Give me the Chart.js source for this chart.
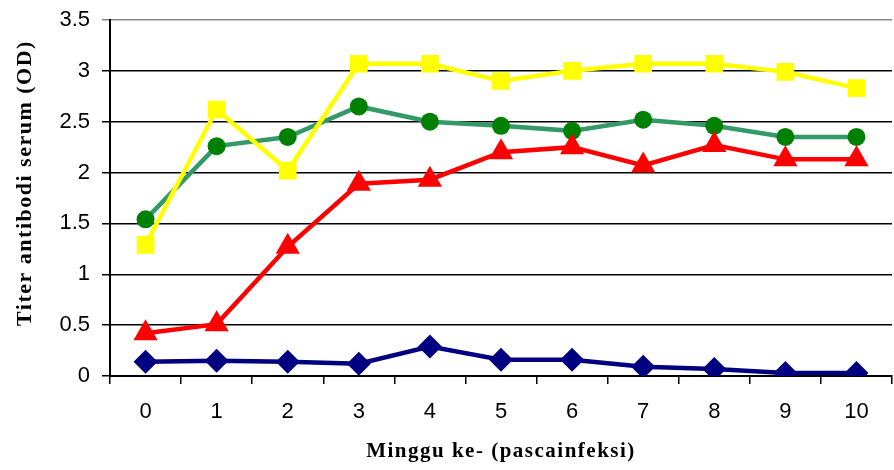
<!DOCTYPE html>
<html>
<head>
<meta charset="utf-8">
<script src="https://cdn.jsdelivr.net/npm/chart.js@4.4.1/dist/chart.umd.min.js"></script>
<style>
  html, body { margin: 0; padding: 0; background: #fff; overflow: hidden; }
  #wrap { position: relative; width: 906px; height: 470px; }
</style>
</head>
<body>
<div id="wrap"><canvas id="titerChart"></canvas></div>
<script>
// minggu pascainfeksi
const weeks = ['0', '1', '2', '3', '4', '5', '6', '7', '8', '9', '10'];
const yTicks = [0, 0.5, 1, 1.5, 2, 2.5, 3, 3.5];

// nilai OD
const seriesYellow = [1.29, 2.62, 2.02, 3.07, 3.07, 2.90, 3.00, 3.07, 3.07, 2.99, 2.83];
const seriesGreen  = [1.54, 2.26, 2.35, 2.65, 2.50, 2.46, 2.41, 2.52, 2.46, 2.35, 2.35];
const seriesRed    = [0.42, 0.51, 1.27, 1.89, 1.93, 2.20, 2.25, 2.07, 2.27, 2.13, 2.13];
const seriesNavy   = [0.14, 0.15, 0.14, 0.12, 0.29, 0.16, 0.16, 0.09, 0.07, 0.03, 0.03];

const ctx = document.getElementById('titerChart').getContext('2d');

Chart.defaults.font.family = "'Liberation Sans', Arial, sans-serif";
Chart.defaults.color = '#000';

const titleFont = "'Liberation Serif', 'Times New Roman', serif";

function mkSet(data, line, fill, style, radius, order) {
    return {
        data: data,
        borderColor: line,
        backgroundColor: fill,
        borderWidth: 4.5,
        pointStyle: style,
        pointRadius: radius,
        pointHoverRadius: radius,
        pointBackgroundColor: fill,
        pointBorderColor: fill,
        pointBorderWidth: 0,
        tension: 0,
        order: order
    };
}

const chart = new Chart(ctx, {
    type: 'line',
    data: {
        labels: weeks,
        datasets: [
            mkSet(seriesYellow, '#ffff00', '#ffff00', 'rect', 12.5, 1),
            mkSet(seriesRed, '#ff0000', '#ff0000', 'triangle', 14, 2),
            mkSet(seriesNavy, '#000080', '#000080', 'rectRot', 12, 3),
            mkSet(seriesGreen, '#339966', '#008000', 'circle', 9, 4)
        ]
    },
    options: {
        responsive: true,
        maintainAspectRatio: false,
        animation: false,
        layout: { padding: { top: 20, right: 0, bottom: 0, left: 0 } },
        plugins: {
            legend: { display: false },
            tooltip: { enabled: false }
        },
        scales: {
            x: {
                offset: true,
                grid: {
                    display: true,
                    drawOnChartArea: false,
                    offset: true,
                    color: '#000',
                    lineWidth: 1.5,
                    tickLength: 8
                },
                border: { color: '#000', width: 2 },
                ticks: { font: { size: 22 }, padding: 15, maxRotation: 0 },
                title: {
                    display: true,
                    text: 'Minggu ke- (pascainfeksi)',
                    font: { family: titleFont, size: 21, weight: 'bold' },
                    padding: { top: 0, bottom: 6 }
                },
                afterFit: (s) => { s.height = 94; s.paddingLeft = 0; s.paddingRight = 0; }
            },
            y: {
                min: 0,
                max: 3.5,
                afterBuildTicks: (s) => { s.ticks = yTicks.map(v => ({ value: v })); },
                grid: {
                    color: (c) => (c.tick && c.tick.value === 3.5 ? '#888' : '#000'),
                    lineWidth: 1.5,
                    tickLength: 8
                },
                border: { color: '#000', width: 2 },
                ticks: { font: { size: 22 }, padding: 12, callback: (v) => String(v) },
                title: {
                    display: true,
                    text: 'Titer antibodi serum (OD)',
                    font: { family: titleFont, size: 22, weight: 'bold' },
                    padding: { top: 12, bottom: 0 }
                },
                afterFit: (s) => { s.width = 110; s.paddingTop = 0; s.paddingBottom = 0; }
            }
        }
    }
});

// judul sumbu: spasi huruf sedikit lebar, judul Y agak ke atas seperti aslinya
function spaceTitle(scale, dy) {
    const orig = scale.drawTitle.bind(scale);
    scale.drawTitle = function () {
        const c = this.ctx;
        c.save();
        c.letterSpacing = '1.5px';
        c.translate(0, dy);
        orig();
        c.restore();
    };
}
spaceTitle(chart.scales.x, 0);
spaceTitle(chart.scales.y, -15);
chart.draw();
</script>
</body>
</html>
